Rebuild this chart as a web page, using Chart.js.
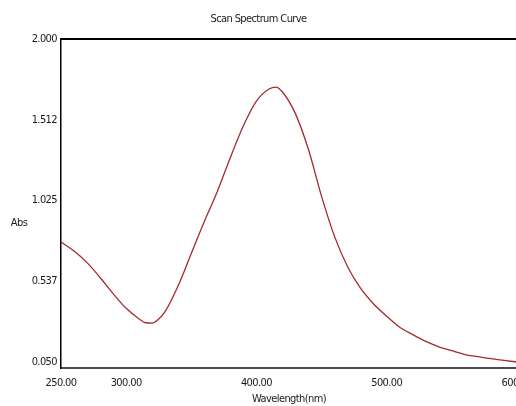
<!DOCTYPE html>
<html>
<head>
<meta charset="utf-8">
<script src="https://cdn.jsdelivr.net/npm/chart.js@4/dist/chart.umd.min.js"></script>
<style>
  html, body { margin: 0; padding: 0; background: #fff; }
  #wrap { width: 516px; height: 406px; overflow: hidden; }
  canvas { display: block; }
</style>
</head>
<body>
<div id="wrap"><canvas id="chart" width="578" height="406"></canvas></div>
<script>
// Scan data
const wavelengths = [250, 260, 270, 280, 290, 300, 310, 315, 320, 325, 330, 340, 350, 360, 370, 380, 390, 400,
    410, 415, 420, 430, 440, 450, 460, 470, 480, 490, 500, 510, 520, 530, 540, 550, 560, 570, 580, 590, 600];
const absorbance = [0.774, 0.72, 0.65, 0.56, 0.463, 0.374, 0.31, 0.287, 0.285, 0.31, 0.356, 0.512, 0.705, 0.898,
    1.08, 1.285, 1.476, 1.625, 1.70, 1.71, 1.68, 1.548, 1.331, 1.05, 0.807, 0.625, 0.494, 0.40, 0.326, 0.26,
    0.215, 0.174, 0.142, 0.118, 0.095, 0.082, 0.07, 0.06, 0.05];

const xTickValues = [250, 300, 400, 500, 600];
const yTickValues = [0.05, 0.5375, 1.025, 1.5125, 2.0];
const yTickLabels = ['0.050', '0.537', '1.025', '1.512', '2.000'];

const fontFamily = "'Liberation Sans Narrow', 'DejaVu Sans Condensed', 'Liberation Sans', sans-serif";
Chart.defaults.font.family = fontFamily;
Chart.defaults.font.size = 11;
Chart.defaults.color = '#1a1a1a';

// narrower text, closer to the instrument software's font
const tightText = {
    id: 'tightText',
    beforeDraw(chart) {
        if ('letterSpacing' in chart.ctx) chart.ctx.letterSpacing = '-0.6px';
    }
};

// "Abs" label sits horizontally left of the axis
const absLabel = {
    id: 'absLabel',
    afterDraw(chart) {
        const ctx = chart.ctx;
        ctx.save();
        ctx.font = '11px ' + fontFamily;
        ctx.fillStyle = '#1a1a1a';
        ctx.textAlign = 'center';
        ctx.textBaseline = 'middle';
        ctx.fillText('Abs', 19, 223);
        ctx.restore();
    }
};

new Chart(document.getElementById('chart'), {
    type: 'line',
    data: {
        datasets: [{
            label: 'Abs',
            data: wavelengths.map((w, i) => ({ x: w, y: absorbance[i] })),
            borderColor: '#a52a2d',
            borderWidth: 1.3,
            pointRadius: 0,
            fill: false,
            cubicInterpolationMode: 'monotone'
        }]
    },
    options: {
        responsive: false,
        animation: false,
        layout: { padding: { left: 0, right: 61, top: 0, bottom: 0 } },
        plugins: {
            legend: { display: false },
            tooltip: { enabled: false },
            title: {
                display: true,
                text: 'Scan Spectrum Curve',
                font: { size: 11, weight: 'normal', lineHeight: 1.2 },
                padding: { top: 13, bottom: 0 }
            }
        },
        scales: {
            x: {
                type: 'linear',
                min: 250,
                max: 600,
                grid: { display: false, drawTicks: false },
                border: { display: true, color: '#4a4a4a', width: 2 },
                afterBuildTicks: (scale) => { scale.ticks = xTickValues.map(v => ({ value: v })); },
                ticks: {
                    autoSkip: false,
                    maxRotation: 0,
                    padding: 9,
                    callback: (v) => Number(v).toFixed(2)
                },
                title: { display: true, text: 'Wavelength(nm)', padding: { top: 5, bottom: 0 } },
                afterFit: (scale) => { scale.height = 38; }
            },
            x2: {
                type: 'linear',
                position: 'top',
                min: 250,
                max: 600,
                grid: { display: false, drawTicks: false },
                border: { display: true, color: '#000', width: 2 },
                ticks: { display: false },
                afterFit: (scale) => { scale.height = 12.8; }
            },
            y: {
                min: 0.0138,
                max: 2.0,
                grid: { display: false, drawTicks: false },
                border: { display: true, color: '#000', width: 1.5 },
                afterBuildTicks: (scale) => { scale.ticks = yTickValues.map(v => ({ value: v })); },
                ticks: {
                    padding: 4,
                    callback: (v, i) => yTickLabels[i]
                },
                afterFit: (scale) => { scale.width = 61; }
            }
        }
    },
    plugins: [tightText, absLabel]
});
</script>
</body>
</html>
